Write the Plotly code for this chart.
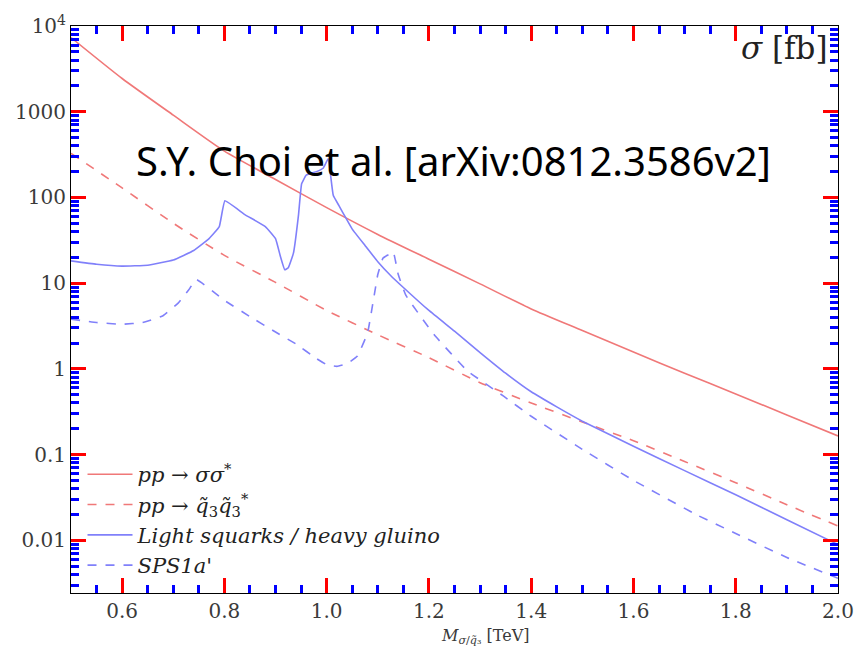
import plotly.graph_objects as go

# ---- data (x in TeV, sigma in fb) ----
x_red = [0.50, 0.60, 0.70, 0.80, 0.90, 1.00, 1.10, 1.20, 1.30, 1.40, 1.50, 1.60, 1.70, 1.80, 1.90, 2.00]
y_red = [7330, 2440, 912, 347, 162, 76, 37, 19, 9.8, 5.0, 2.8, 1.57, 0.89, 0.51, 0.29, 0.165]

x_red_d = [0.50, 0.60, 0.70, 0.80, 0.90, 1.00, 1.10, 1.20, 1.30, 1.40, 1.50, 1.60, 1.70, 1.80, 1.90, 2.00]
y_red_d = [327, 129, 50, 21.1, 10.2, 4.8, 2.5, 1.35, 0.69, 0.40, 0.24, 0.145, 0.083, 0.047, 0.026, 0.0147]

x_blue = [0.50, 0.55, 0.60, 0.65, 0.70, 0.74, 0.77, 0.79, 0.801, 0.84, 0.88, 0.90, 0.91, 0.918, 0.925, 0.935,
          0.945, 0.951, 0.96, 0.98, 0.993, 1.003, 1.013, 1.024, 1.038, 1.05, 1.075, 1.10, 1.125, 1.15, 1.20,
          1.25, 1.30, 1.35, 1.40, 1.45, 1.50, 1.60, 1.70, 1.80, 1.90, 2.00]
y_blue = [18.2, 16.6, 15.8, 16.2, 18.6, 24.0, 33.1, 45.7, 91.2, 63.1, 45.7, 33.1, 20.0, 14.3, 15.1, 22.4,
          63.1, 144, 182, 200, 219, 282, 105, 80.4, 56.8, 42.7, 27.5, 17.8, 12.3, 8.9, 4.8,
          2.75, 1.55, 0.89, 0.54, 0.36, 0.245, 0.125, 0.065, 0.034, 0.0174, 0.0089]

x_blue_d = [0.50, 0.55, 0.60, 0.64, 0.68, 0.71, 0.73, 0.745, 0.80, 0.85, 0.90, 0.94, 0.98, 1.00, 1.02, 1.04,
            1.06, 1.08, 1.10, 1.11, 1.12, 1.13, 1.14, 1.155, 1.21, 1.275, 1.346, 1.40, 1.50, 1.60, 1.726,
            1.80, 1.90, 2.00]
y_blue_d = [3.8, 3.47, 3.31, 3.47, 4.17, 5.89, 8.3, 11.0, 6.3, 4.07, 2.69, 1.95, 1.32, 1.12, 1.07, 1.15,
            1.41, 2.63, 12.6, 19.5, 21.4, 23.4, 12.6, 7.2, 2.51, 0.95, 0.48, 0.28, 0.115, 0.050, 0.0195,
            0.0120, 0.0063, 0.0036]

names = ["<i>pp</i> → <i>σσ</i><sup>*</sup>",
         "<i>pp</i> → <i>q̃</i><sub>3</sub><i>q̃</i><sub>3</sub><sup>*</sup>",
         "<i>Light squarks / heavy gluino</i>",
         "<i>SPS1a'</i>"]

x_ticks = [0.6, 0.8, 1.0, 1.2, 1.4, 1.6, 1.8, 2.0]
x_tick_text = ["0.6", "0.8", "1.0", "1.2", "1.4", "1.6", "1.8", "2.0"]
y_ticks = [0.01, 0.1, 1, 10, 100, 1000, 10000]
y_tick_text = ["0.01", "0.1", "1", "10", "100", "1000", "10<sup>4</sup>"]

RED = "rgb(240,120,120)"
BLUE = "rgb(128,128,250)"
SERIF = "DejaVu Serif"

fig = go.Figure()
fig.add_trace(go.Scatter(x=x_red, y=y_red, mode="lines", name=names[0],
                         line=dict(color=RED, width=1.6, shape="spline", smoothing=0.6)))
fig.add_trace(go.Scatter(x=x_red_d, y=y_red_d, mode="lines", name=names[1],
                         line=dict(color=RED, width=1.6, dash="dash", shape="spline", smoothing=0.6)))
fig.add_trace(go.Scatter(x=x_blue, y=y_blue, mode="lines", name=names[2],
                         line=dict(color=BLUE, width=1.6, shape="spline", smoothing=0.3)))
fig.add_trace(go.Scatter(x=x_blue_d, y=y_blue_d, mode="lines", name=names[3],
                         line=dict(color=BLUE, width=1.6, dash="dash", shape="spline", smoothing=0.3)))

fig.update_xaxes(range=[0.5, 2.0], tickvals=x_ticks, ticktext=x_tick_text,
                 showline=True, linecolor="black", ticks="inside", ticklen=15, tickcolor="red",
                 tickwidth=3, mirror="allticks",
                 tickfont=dict(family=SERIF, size=20, color="#3a3a3a"),
                 minor=dict(dtick=0.05, tick0=0.5, ticks="inside", ticklen=8, tickcolor="blue"))
fig.update_yaxes(type="log", range=[-2.615, 4], tickvals=y_ticks, ticktext=y_tick_text,
                 showline=True, linecolor="black", ticks="inside", ticklen=15, tickcolor="red",
                 tickwidth=3, mirror="allticks",
                 tickfont=dict(family=SERIF, size=20, color="#3a3a3a"),
                 minor=dict(dtick="D1", ticks="inside", ticklen=8, tickcolor="blue"))

fig.add_annotation(text="<i>M</i><sub><i>σ</i>/<i>q̃</i>₃</sub> [TeV]", xref="paper", yref="paper",
                   x=0.54, y=-0.077, xanchor="center", yanchor="middle", showarrow=False,
                   font=dict(family=SERIF, size=16, color="#3a3a3a"))
fig.add_annotation(text="S.Y. Choi et al. [arXiv:0812.3586v2]", xref="paper", yref="paper",
                   x=0.499, y=0.762, xanchor="center", yanchor="middle", showarrow=False,
                   font=dict(family="Noto Sans, sans-serif", size=40, color="black"))
fig.add_annotation(text="<i>σ</i> [fb]", xref="paper", yref="paper", x=0.99, y=0.962,
                   xanchor="right", yanchor="middle", showarrow=False,
                   font=dict(family=SERIF, size=31, color="#222"))

fig.update_layout(width=866, height=662, margin=dict(l=71, r=17, t=18, b=69),
                  plot_bgcolor="white", paper_bgcolor="white", showlegend=True,
                  legend=dict(x=0.015, y=0.245, xanchor="left", yanchor="top", itemwidth=45,
                              bgcolor="rgba(0,0,0,0)", tracegroupgap=0,
                              font=dict(family=SERIF, size=21, color="#222")))

fig.write_html("out.html")
